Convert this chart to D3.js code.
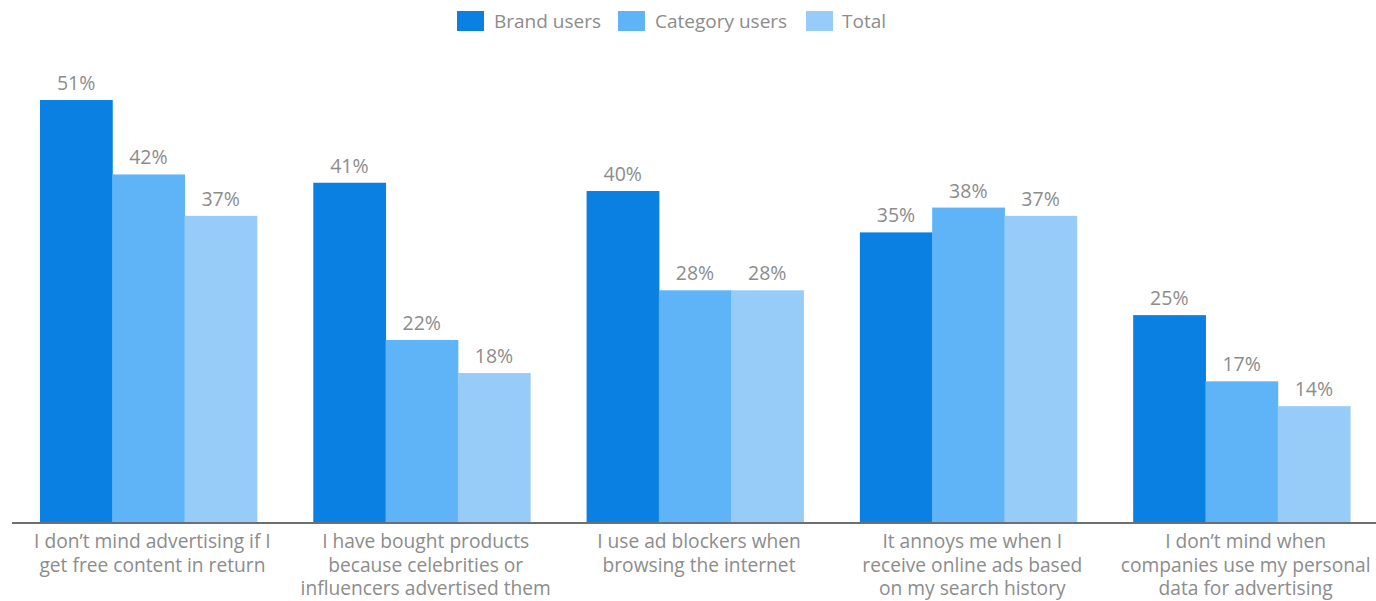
<!DOCTYPE html>
<html>
<head>
<meta charset="utf-8">
<script src="https://cdn.jsdelivr.net/npm/d3@7"></script>
<style>
  html, body { margin: 0; padding: 0; background: #fff; }
  svg { display: block; font-family: "Open Sans", "Noto Sans", sans-serif; }
</style>
</head>
<body>
<svg id="chart" width="1376" height="601"></svg>
<script>
// Survey statements (each label split into lines)
const categories = [
  ["I don\u2019t mind advertising if I", "get free content in return"],
  ["I have bought products", "because celebrities or", "influencers advertised them"],
  ["I use ad blockers when", "browsing the internet"],
  ["It annoys me when I", "receive online ads based", "on my search history"],
  ["I don\u2019t mind when", "companies use my personal", "data for advertising"]
];
const seriesNames = ["Brand users", "Category users", "Total"];
const brandUsers    = [51, 41, 40, 35, 25];
const categoryUsers = [42, 22, 28, 38, 17];
const totalValues   = [37, 18, 28, 37, 14];
const seriesColors  = ["#0b80e3", "#5fb4f7", "#97ccf8"];

const seriesValues = [brandUsers, categoryUsers, totalValues];
const W = 1376, H = 601;
const baseY = 522;
const svg = d3.select("#chart");

const x0 = d3.scaleBand()
  .domain(d3.range(categories.length))
  .range([11.75, 1378.25])
  .paddingInner(0.2066)
  .paddingOuter(0.1033);

const x1 = d3.scaleBand()
  .domain(d3.range(seriesNames.length))
  .range([0, x0.bandwidth()]);

const y = d3.scaleLinear().domain([0, 51]).range([baseY, 100]);

const groups = svg.append("g").selectAll("g")
  .data(categories)
  .join("g")
  .attr("transform", (d, i) => `translate(${x0(i)},0)`);

groups.selectAll("rect")
  .data((d, i) => seriesValues.map((s, k) => ({ k, v: s[i] })))
  .join("rect")
  .attr("x", d => x1(d.k))
  .attr("y", d => y(d.v))
  .attr("width", x1.bandwidth() + 0.5)
  .attr("height", d => baseY - y(d.v))
  .attr("fill", d => seriesColors[d.k]);

groups.selectAll("text.val")
  .data((d, i) => seriesValues.map((s, k) => ({ k, v: s[i] })))
  .join("text")
  .attr("class", "val")
  .attr("x", d => x1(d.k) + x1.bandwidth() / 2)
  .attr("y", d => y(d.v) - 10)
  .attr("text-anchor", "middle")
  .attr("font-size", 19.5)
  .attr("fill", "#8c8c8c")
  .text(d => d.v + "%");

// Baseline axis
svg.append("line")
  .attr("x1", 12).attr("x2", W)
  .attr("y1", baseY + 1).attr("y2", baseY + 1)
  .attr("stroke", "#6f6f6f")
  .attr("stroke-width", 2);

// Category labels
groups.append("text")
  .attr("x", x0.bandwidth() / 2 + 4)
  .attr("y", 548)
  .attr("text-anchor", "middle")
  .attr("font-size", 19.2)
  .attr("fill", "#8c8c8c")
  .selectAll("tspan")
  .data(d => d)
  .join("tspan")
  .attr("x", x0.bandwidth() / 2 + 4)
  .attr("dy", (d, i) => i === 0 ? 0 : 23.5)
  .text(d => d);

// Legend
const legendItems = [
  { x: 457, tx: 494 },
  { x: 618, tx: 655 },
  { x: 806, tx: 842 }
];
const legend = svg.append("g");
seriesNames.forEach((name, k) => {
  legend.append("rect")
    .attr("x", legendItems[k].x).attr("y", 11)
    .attr("width", 27).attr("height", 20)
    .attr("fill", seriesColors[k]);
  legend.append("text")
    .attr("x", legendItems[k].tx).attr("y", 28)
    .attr("font-size", 19)
    .attr("fill", "#8c8c8c")
    .text(name);
});
</script>
</body>
</html>
